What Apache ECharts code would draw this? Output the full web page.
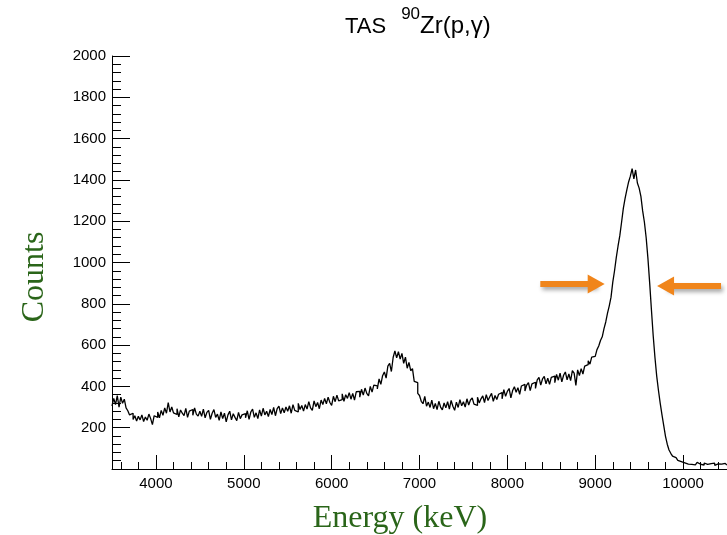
<!DOCTYPE html>
<html>
<head>
<meta charset="utf-8">
<script src="https://cdn.jsdelivr.net/npm/echarts@6/dist/echarts.min.js"></script>
<style>
  html, body { margin: 0; padding: 0; background: #fff; }
  #chart { width: 727px; height: 535px; }
</style>
</head>
<body>
<div id="chart"></div>
<script>
// TAS spectrum of 90Zr(p,gamma): counts per 20 keV bin, starting at 3500 keV
const energyStart = 3500;
const energyEnd = 10500;
const binWidth = 20;

const counts = [
  // 3500 - 4500 keV
  305, 342, 312, 355, 300, 348, 318, 338, 296, 282,
  262, 270, 240, 258, 232,
  255, 238, 262, 230, 252, 236, 266, 244, 215, 258,
  250, 276, 248, 284, 260, 296, 270, 322, 276, 300,
  272, 264, 292, 252, 286, 270, 258, 294, 250, 280, 288, 260, 296, 266, 256,
  // 4500 - 5500 keV
  280, 255, 290, 248, 274, 284, 240, 270, 288, 250,
  266, 236, 276, 244, 270, 228, 262, 280, 238, 268, 250, 234, 274, 244, 262,
  268, 248, 282, 240, 276, 290, 250, 272, 244, 286, 256, 294, 262, 280, 254,
  288, 264, 298, 258, 292, 304, 268, 296, 272, 300,
  // 5500 - 6500 keV
  280, 306, 270, 312, 284, 276, 318, 288, 308, 280,
  312, 290, 326, 296, 284, 330, 302, 322, 292, 334,
  312, 342, 316, 348, 322, 308, 352, 326, 358, 330,
  336, 364, 328, 360, 342, 370, 338, 366, 334, 374,
  376, 348, 386, 358, 392, 366, 354, 400, 372, 406,
  // 6500 - 7500 keV
  402, 388, 436, 410, 452,
  470, 440, 498, 512, 472,
  540, 572, 538, 568, 532,
  560, 512, 542, 488, 516,
  476, 486, 424, 418, 366,
  356, 328, 316, 352, 304,
  324, 298, 334, 292, 318, 288, 328, 300, 286, 320,
  296, 326, 290, 332, 304, 284, 324, 298, 336, 306,
  // 7500 - 8500 keV
  326, 300, 340, 310, 334, 344, 314, 308, 348, 320,
  340, 354, 322, 360, 332, 350, 366, 328, 356, 336,
  362, 370, 340, 384, 352, 376, 390, 344, 380, 398,
  372, 394, 362, 402, 410, 378, 406, 418, 380, 412,
  420, 390, 432, 444, 406, 436, 448, 412, 440, 410,
  // 8500 - 9500 keV
  444, 450, 418, 458, 430, 464, 422, 454, 470, 432,
  460, 428, 476, 464, 405, 480, 452, 486, 460, 498,
  505, 524, 508, 542, 545,
  552, 578, 596, 622, 640,
  680, 712, 755, 790, 832,
  905, 960, 1025, 1080, 1130,
  1195, 1262, 1310, 1352, 1390,
  1418, 1455, 1405, 1448, 1385,
  // 9500 - 10500 keV
  1360, 1320, 1250, 1195, 1120,
  1020, 900, 770, 645, 540,
  450, 380, 318, 262, 210,
  158, 120, 92, 76, 62,
  55, 48, 42, 36, 38,
  30, 36, 24, 33, 22, 30, 20, 28, 32, 23,
  27, 19, 29, 22, 17, 26, 21, 28, 18, 25, 16, 24, 20, 27, 19
];

const xMajorTicks = [4000, 5000, 6000, 7000, 8000, 9000, 10000];
const yMajorTicks = [0, 200, 400, 600, 800, 1000, 1200, 1400, 1600, 1800, 2000];

// minor ticks every 200 keV between the labelled ones
const xMinorTicks = [];
for (let e = 3600; e < energyEnd; e += 200) xMinorTicks.push(e);

// histogram steps: each bin drawn from its lower edge, closed at the upper edge
const histData = counts.map((c, i) => [energyStart + i * binWidth, c]);
histData.push([energyStart + counts.length * binWidth, counts[counts.length - 1]]);

const labelFont = 'Liberation Sans, Arial, sans-serif';
const serifFont = 'Liberation Serif, Times New Roman, serif';
const titleGreen = '#2a6519';
const arrowOrange = '#f0851b';

const chart = echarts.init(document.getElementById('chart'), null, { renderer: 'canvas' });

const arrowLine = {
  color: arrowOrange,
  width: 6,
  type: 'solid',
  shadowColor: 'rgba(0,0,0,0.35)',
  shadowBlur: 4,
  shadowOffsetX: 2,
  shadowOffsetY: 3
};

chart.setOption({
  animation: false,
  backgroundColor: '#fff',
  title: {
    text: '{t|TAS}{s|90}{a|Zr(p,γ)}',
    left: 340,
    top: 1,
    textStyle: {
      fontWeight: 'normal',
      rich: {
        t: { fontSize: 22, fontWeight: 'normal', fontFamily: labelFont, color: '#000', lineHeight: 32, verticalAlign: 'bottom' },
        a: { fontSize: 24, fontWeight: 'normal', fontFamily: labelFont, color: '#000', lineHeight: 32, verticalAlign: 'bottom' },
        s: { fontSize: 17, fontWeight: 'normal', fontFamily: labelFont, color: '#000', lineHeight: 16, verticalAlign: 'top', padding: [0, 0, 0, 15] }
      }
    }
  },
  grid: { left: 112, top: 56, width: 616, height: 413, containLabel: false },
  xAxis: [
    {
      type: 'value',
      min: energyStart,
      max: energyEnd,
      interval: 500,
      axisLine: { show: true, onZero: false, lineStyle: { color: '#000', width: 1 } },
      axisTick: { show: true, inside: true, length: 14, customValues: xMajorTicks, lineStyle: { color: '#000' } },
      axisLabel: {
        show: true,
        customValues: xMajorTicks,
        margin: 7,
        fontSize: 15,
        fontFamily: labelFont,
        color: '#000',
        formatter: v => String(v)
      },
      splitLine: { show: false }
    },
    {
      type: 'value',
      min: energyStart,
      max: energyEnd,
      interval: 100,
      position: 'bottom',
      axisLine: { show: false, onZero: false },
      axisTick: { show: true, inside: true, length: 7, customValues: xMinorTicks, lineStyle: { color: '#000' } },
      axisLabel: { show: false },
      splitLine: { show: false }
    }
  ],
  yAxis: {
    type: 'value',
    min: 0,
    max: 2000,
    interval: 200,
    axisLine: { show: true, onZero: false, lineStyle: { color: '#000', width: 1 } },
    axisTick: { show: true, inside: true, length: 18, customValues: yMajorTicks, lineStyle: { color: '#000' } },
    minorTick: { show: true, splitNumber: 5, length: 9, lineStyle: { color: '#000' } },
    axisLabel: {
      margin: 6,
      fontSize: 15,
      fontFamily: labelFont,
      color: '#000',
      formatter: v => (v === 0 ? '' : String(v))
    },
    splitLine: { show: false }
  },
  series: [
    {
      type: 'line',
      step: 'end',
      data: histData,
      xAxisIndex: 0,
      symbol: 'none',
      lineStyle: { color: '#000', width: 1.3 },
      silent: true,
      clip: true,
      markLine: {
        silent: true,
        symbol: ['none', 'triangle'],
        symbolSize: [19, 17],
        label: { show: false },
        emphasis: { disabled: true },
        lineStyle: arrowLine,
        data: [
          [{ coord: [8375, 896] }, { coord: [9011, 896] }],
          [{ coord: [10432, 886] }, { coord: [9801, 886] }]
        ]
      }
    }
  ],
  graphic: [
    {
      type: 'text',
      x: 35,
      y: 277,
      rotation: Math.PI / 2,
      style: {
        text: 'Counts',
        align: 'center',
        verticalAlign: 'middle',
        fontSize: 32,
        fontFamily: serifFont,
        fill: titleGreen
      }
    },
    {
      type: 'text',
      x: 400,
      y: 519,
      style: {
        text: 'Energy (keV)',
        align: 'center',
        verticalAlign: 'middle',
        fontSize: 32,
        fontFamily: serifFont,
        fill: titleGreen
      }
    }
  ]
});
</script>
</body>
</html>
